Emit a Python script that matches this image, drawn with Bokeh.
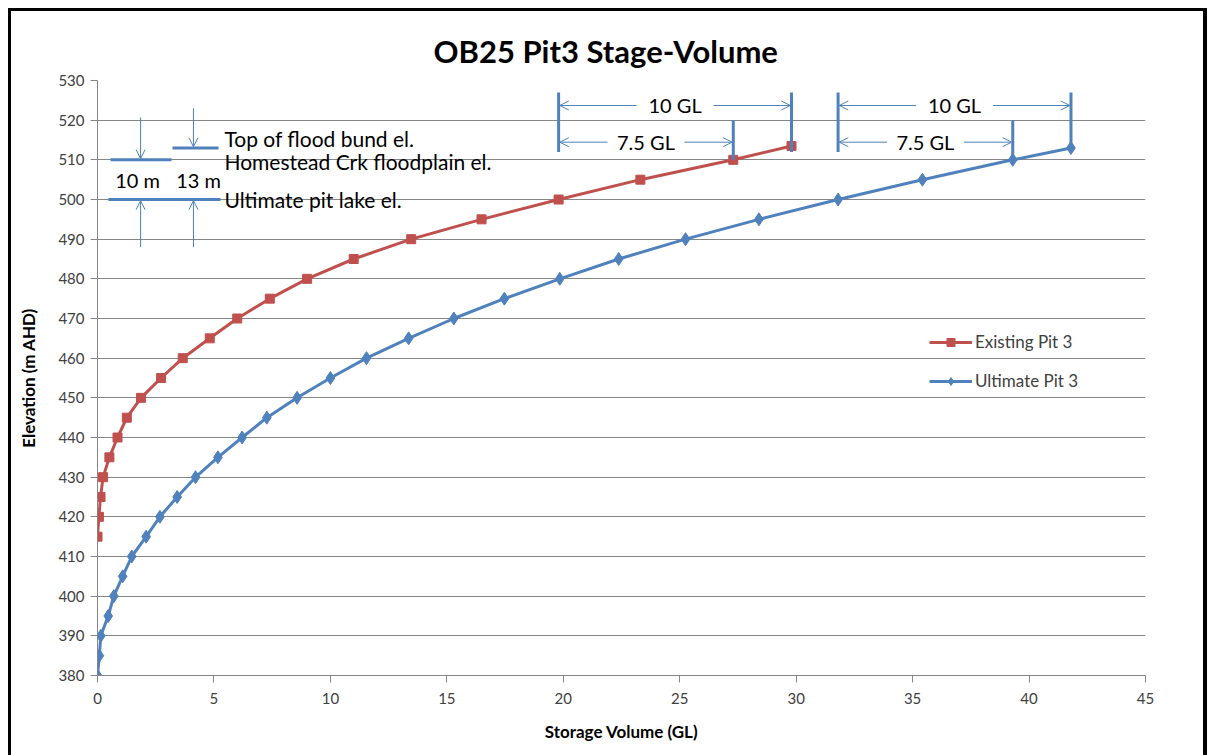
from bokeh.plotting import figure
from bokeh.models import (Range1d, FixedTicker, Label, Arrow, OpenHead, Legend,
                          LegendItem)
from bokeh.embed import file_html
from bokeh.resources import INLINE

# ---------------- data ----------------
existing_elev = [415, 420, 425, 430, 435, 440, 445, 450, 455, 460, 465, 470,
                 475, 480, 485, 490, 495, 500, 505, 510, 513.5]
existing_vol = [0.0, 0.06, 0.13, 0.24, 0.51, 0.86, 1.26, 1.87, 2.73, 3.66, 4.82,
                6.0, 7.4, 9.0, 11.0, 13.47, 16.49, 19.8, 23.31, 27.3, 29.8]

ultimate_elev = [380, 385, 390, 395, 400, 405, 410, 415, 420, 425, 430, 435,
                 440, 445, 450, 455, 460, 465, 470, 475, 480, 485, 490, 495,
                 500, 505, 510, 513]
ultimate_vol = [0.0, 0.08, 0.14, 0.46, 0.7, 1.08, 1.47, 2.09, 2.68, 3.42, 4.21,
                5.17, 6.21, 7.27, 8.57, 10.0, 11.55, 13.36, 15.3, 17.47, 19.85,
                22.38, 25.25, 28.4, 31.8, 35.42, 39.3, 41.8]

x_ticks = [0, 5, 10, 15, 20, 25, 30, 35, 40, 45]
y_ticks = [380, 390, 400, 410, 420, 430, 440, 450, 460, 470, 480, 490, 500,
           510, 520, 530]

pit_lake_el = 500
floodplain_el = 510
bund_el = 513

series_names = ["Existing Pit 3", "Ultimate Pit 3"]
title_text = "OB25 Pit3 Stage-Volume"

RED = "#C0504D"
BLUE = "#4F81BD"
GRID = "#868686"
TXT = "#404040"
FONT = "Lato"

p = figure(width=1210, height=755, x_range=Range1d(0, 45), y_range=Range1d(380, 530),
           output_backend="svg", toolbar_location=None,
           min_border_left=97, min_border_right=65, min_border_top=80, min_border_bottom=80)
p.outline_line_color = None
p.background_fill_color = "white"
p.border_fill_color = None
# page frame drawn as the host element background (behind the transparent border area)
p.styles = {"background": ("linear-gradient(#000,#000) 8px 8px / 3px 800px no-repeat, "
                           "linear-gradient(#000,#000) 8px 8px / 1199px 3px no-repeat, "
                           "linear-gradient(#000,#000) 1203px 8px / 4px 800px no-repeat, "
                           "#ffffff")}

p.title.text = title_text
p.title.align = "left"
p.title.offset = 336
p.title.text_font = FONT
p.title.text_font_style = "bold"
p.title.text_font_size = "31px"
p.title.text_color = "#000000"
p.title.standoff = 21

p.xaxis.ticker = FixedTicker(ticks=x_ticks)
p.yaxis.ticker = FixedTicker(ticks=y_ticks)
p.xgrid.visible = False
p.ygrid.grid_line_color = GRID
p.ygrid.grid_line_width = 1
for ax in (p.xaxis[0], p.yaxis[0]):
    ax.axis_line_color = GRID
    ax.major_tick_line_color = GRID
    ax.major_tick_out = 7
    ax.major_tick_in = 0
    ax.minor_tick_line_color = None
    ax.major_label_text_font = FONT
    ax.major_label_text_font_size = "15px"
    ax.major_label_text_color = TXT
    ax.axis_label_text_font = FONT
    ax.axis_label_text_font_style = "bold"
    ax.axis_label_text_font_size = "17px"
    ax.axis_label_text_color = "#000000"
p.xaxis.major_label_standoff = 10
p.yaxis.major_label_standoff = 6
p.xaxis.axis_label = "Storage Volume (GL)"
p.yaxis.axis_label = "Elevation (m AHD)"
p.xaxis.axis_label_standoff = 14
p.yaxis.axis_label_standoff = 16

# series
r1 = p.line(existing_vol, existing_elev, line_color=RED, line_width=3)
r2 = p.scatter(existing_vol, existing_elev, marker="square", size=9, color=RED)
r3 = p.line(ultimate_vol, ultimate_elev, line_color=BLUE, line_width=3)
r4 = p.scatter(ultimate_vol, ultimate_elev, marker="diamond", size=13, color=BLUE)

legend = Legend(items=[LegendItem(label=series_names[0], renderers=[r1, r2]),
                       LegendItem(label=series_names[1], renderers=[r3, r4])],
                location=(832, 284), glyph_width=43, glyph_height=20, spacing=18,
                label_standoff=3, padding=0, margin=0, border_line_color=None,
                background_fill_alpha=0, label_text_font=FONT,
                label_text_font_size="17px", label_text_color=TXT)
p.add_layout(legend)

# ---------- top-left elevation annotation ----------
p.segment(x0=[0.56, 3.22, 0.47], y0=[floodplain_el, bund_el, pit_lake_el],
          x1=[3.18, 5.2, 5.28], y1=[floodplain_el, bund_el, pit_lake_el],
          line_color=BLUE, line_width=3)


def arrow(x0, y0, x1, y1):
    p.add_layout(Arrow(x_start=x0, y_start=y0, x_end=x1, y_end=y1,
                       end=OpenHead(size=9, line_color=BLUE, line_width=1),
                       start=None, line_color=BLUE, line_width=1))


arrow(1.85, 520.7, 1.85, floodplain_el + 0.3)
arrow(4.12, 523.0, 4.12, bund_el + 0.3)
arrow(1.85, 488.0, 1.85, pit_lake_el - 0.3)
arrow(4.12, 488.0, 4.12, pit_lake_el - 0.3)

ann_font = "21px"
for txt, yy in [("Top of flood bund el.", 515.5),
                ("Homestead Crk floodplain el.", 509.6),
                ("Ultimate pit lake el.", 500.0)]:
    p.add_layout(Label(x=5.45, y=yy, text=txt, text_baseline="middle",
                       text_font=FONT, text_font_size=ann_font, text_color="#000000"))
p.add_layout(Label(x=1.72, y=505.0, text="%d m" % (floodplain_el - pit_lake_el),
                   text_align="center", text_baseline="middle", text_font=FONT,
                   text_font_size="20px", text_color="#000000"))
p.add_layout(Label(x=4.34, y=505.0, text="%d m" % (bund_el - pit_lake_el),
                   text_align="center", text_baseline="middle", text_font=FONT,
                   text_font_size="20px", text_color="#000000"))


# ---------- volume brackets ----------
def vol_at(vols, elevs, e):
    return vols[elevs.index(e)]


gap = 1.65
for vols, elevs in [(existing_vol, existing_elev), (ultimate_vol, ultimate_elev)]:
    v0 = vol_at(vols, elevs, 500)
    v75 = vol_at(vols, elevs, 510)
    v10 = vols[-1]
    p.segment(x0=[v0, v10, v75], y0=[527, 527, 520], x1=[v0, v10, v75],
              y1=[512, 512, 510], line_color=BLUE, line_width=3)
    for vend, yy, lab in [(v10, 523.7, "%g GL" % round(v10 - v0, 1)),
                          (v75, 514.45, "%g GL" % round(v75 - v0, 1))]:
        c = (v0 + vend) / 2
        arrow(c - gap, yy, v0 + 0.05, yy)
        arrow(c + gap, yy, vend - 0.05, yy)
        p.add_layout(Label(x=c, y=yy, text=lab, text_align="center",
                           text_baseline="middle", text_font=FONT,
                           text_font_size="20px", text_color="#000000"))

open("out.html", "w").write(file_html(p, INLINE))
